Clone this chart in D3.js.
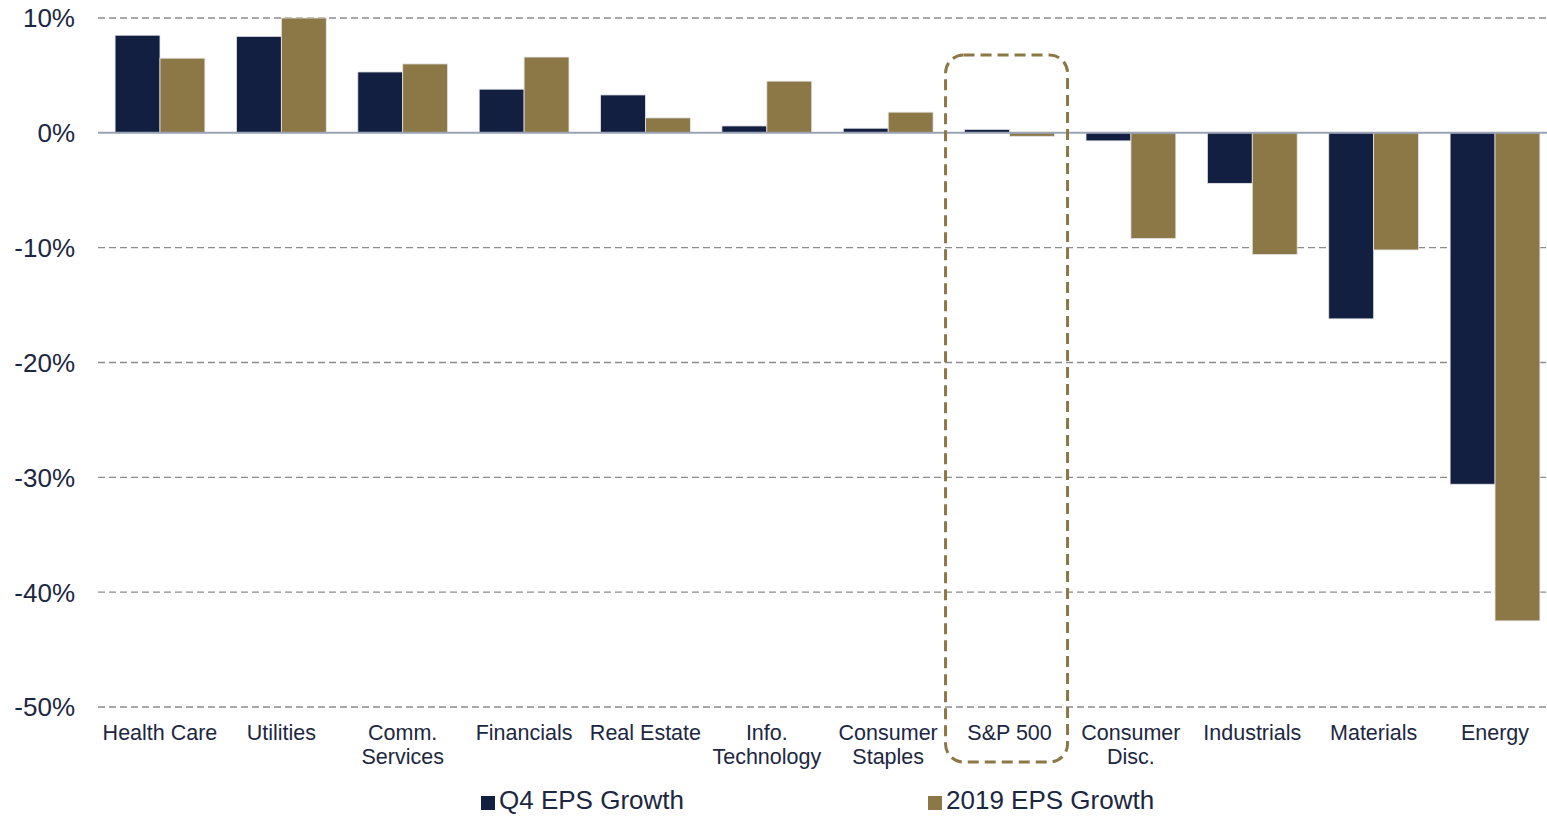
<!DOCTYPE html>
<html>
<head>
<meta charset="utf-8">
<script src="https://cdn.jsdelivr.net/npm/d3@7"></script>
<style>
  html, body { margin: 0; padding: 0; background: #fff; }
  svg { display: block; font-family: "Liberation Sans", Arial, sans-serif; }
</style>
</head>
<body>
<svg id="chart" width="1547" height="816"></svg>
<script>
// Sector earnings growth
const categories = ["Health Care", "Utilities", "Comm.\nServices", "Financials", "Real Estate",
  "Info.\nTechnology", "Consumer\nStaples", "S&P 500", "Consumer\nDisc.", "Industrials", "Materials", "Energy"];
const seriesNames = ["Q4 EPS Growth", "2019 EPS Growth"];
const q4Growth = [8.5, 8.4, 5.3, 3.8, 3.3, 0.6, 0.4, 0.3, -0.7, -4.4, -16.2, -30.6];
const fyGrowth = [6.5, 10.0, 6.0, 6.6, 1.3, 4.5, 1.8, -0.3, -9.2, -10.6, -10.2, -42.5];
const yTicks = [10, 0, -10, -20, -30, -40, -50];
const highlight = "S&P 500";

const colors = ["#131f41", "#8b7846"];
const textColor = "#1c2742";

const svg = d3.select("#chart");

const x0 = d3.scaleBand().domain(categories).range([99.3, 1555.7]).paddingInner(0.26).paddingOuter(0.13);
const x1 = d3.scaleBand().domain(seriesNames).range([0, x0.bandwidth()]);
const y = d3.scaleLinear().domain([-50, 10]).range([707, 18]);

// gridlines
svg.append("g").selectAll("line").data(yTicks.filter(d => d !== 0)).join("line")
  .attr("x1", 98).attr("x2", 1547)
  .attr("y1", d => y(d)).attr("y2", d => y(d))
  .attr("stroke", "#8c8c8c").attr("stroke-width", 1.4).attr("stroke-dasharray", "7,4");

// y tick labels
const yAxis = d3.axisLeft(y).tickValues(yTicks).tickFormat(d => d + "%").tickSize(0).tickPadding(0);
const yg = svg.append("g").attr("transform", "translate(75,0)").call(yAxis);
yg.select(".domain").remove();
yg.selectAll("text").attr("fill", textColor).style("font-size", "26px").attr("dy", "0.34em");

// bars
const rows = categories.map((c, i) => ({ cat: c, vals: [q4Growth[i], fyGrowth[i]] }));
const groups = svg.append("g").selectAll("g").data(rows).join("g")
  .attr("transform", d => `translate(${x0(d.cat)},0)`);
groups.selectAll("rect").data(d => d.vals.map((v, j) => ({ v, s: seriesNames[j], j }))).join("rect")
  .attr("x", d => x1(d.s))
  .attr("width", x1.bandwidth())
  .attr("y", d => y(Math.max(0, d.v)))
  .attr("height", d => Math.abs(y(d.v) - y(0)))
  .attr("fill", d => colors[d.j])
  .attr("stroke", "#e6e6ea").attr("stroke-width", 0.8);

// zero line
svg.append("line").attr("x1", 98).attr("x2", 1547).attr("y1", y(0)).attr("y2", y(0))
  .attr("stroke", "#9aa3b5").attr("stroke-width", 2);

// category labels
const xl = svg.append("g");
categories.forEach(c => {
  const t = xl.append("text")
    .attr("x", x0(c) + x0.bandwidth() / 2).attr("y", 740)
    .attr("text-anchor", "middle").attr("fill", textColor).style("font-size", "21.5px");
  c.split("\n").forEach((line, k) => {
    t.append("tspan").attr("x", x0(c) + x0.bandwidth() / 2).attr("dy", k === 0 ? 0 : 24).text(line);
  });
});

// highlight box around the index
const hx = x0(highlight) + x0.bandwidth() / 2 - 3;
svg.append("rect")
  .attr("x", hx - 61).attr("y", 55).attr("width", 122).attr("height", 707)
  .attr("rx", 18).attr("ry", 18)
  .attr("fill", "none").attr("stroke", "#8b7846").attr("stroke-width", 3)
  .attr("stroke-dasharray", "11,6");

// legend
const legendX = [481, 928];
const lg = svg.append("g").selectAll("g").data(seriesNames).join("g")
  .attr("transform", (d, i) => `translate(${legendX[i]},0)`);
lg.append("rect").attr("x", 0).attr("y", 796).attr("width", 14).attr("height", 14)
  .attr("fill", (d, i) => colors[i]);
lg.append("text").attr("x", 18).attr("y", 809).attr("fill", textColor)
  .style("font-size", "26px").text(d => d);
</script>
</body>
</html>
